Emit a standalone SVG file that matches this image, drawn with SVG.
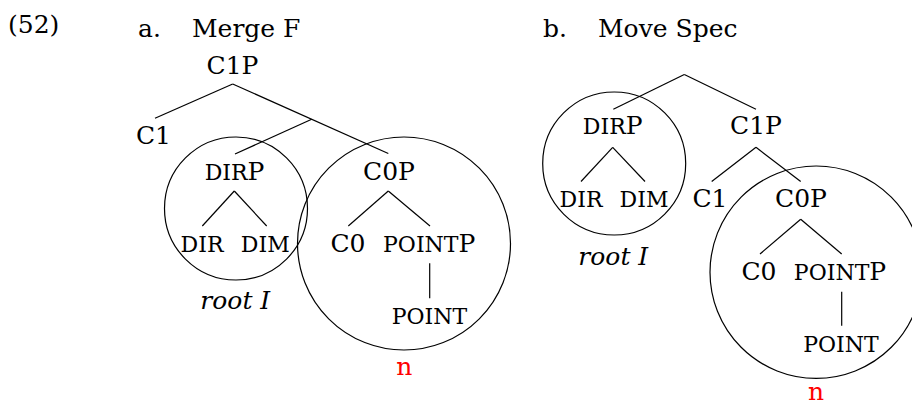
<svg xmlns="http://www.w3.org/2000/svg" width="912" height="405" viewBox="0 0 912 405">
<style>
text{font-family:"DejaVu Serif","Liberation Serif",serif;font-size:25px;fill:#000}
.m{text-anchor:middle}
.sc{font-size:22px}
.it{font-style:italic}
.red{fill:#ff0000}
line,circle{stroke:#000;stroke-width:1.2;fill:none}
</style>
<rect width="912" height="405" fill="#fff"/>
<g id="labels">
<text x="8" y="32.5">(52)</text>
<text x="138" y="36.5">a.</text>
<text x="192" y="36.5">Merge F</text>
<text x="543" y="36.5">b.</text>
<text x="598" y="36.5">Move Spec</text>
</g>
<g id="connectors">
<line x1="232.7" y1="84" x2="155" y2="118.3"/>
<line x1="232.7" y1="84" x2="388.3" y2="153.5"/>
<line x1="311.7" y1="119.2" x2="235" y2="154"/>
<line x1="234.3" y1="191" x2="202.3" y2="226"/>
<line x1="234.3" y1="191" x2="266.7" y2="226"/>
<line x1="388.3" y1="191" x2="348.3" y2="226"/>
<line x1="388.3" y1="191" x2="430" y2="226"/>
<line x1="429.7" y1="263.3" x2="429.7" y2="298.3"/>
<line x1="684.3" y1="74.5" x2="613.3" y2="109.3"/>
<line x1="684.3" y1="74.5" x2="756" y2="109.3"/>
<line x1="612.7" y1="147.3" x2="581" y2="181.5"/>
<line x1="612.7" y1="147.3" x2="645" y2="181.5"/>
<line x1="756" y1="147.3" x2="711.7" y2="181.5"/>
<line x1="756" y1="147.3" x2="800.7" y2="181.5"/>
<line x1="800.7" y1="219.3" x2="760" y2="254"/>
<line x1="800.7" y1="219.3" x2="841.7" y2="254"/>
<line x1="841.7" y1="291.7" x2="841.7" y2="325.7"/>
</g>
<g id="circles">
<circle cx="236" cy="208.5" r="71.5"/>
<circle cx="404" cy="243.5" r="106.5"/>
<circle cx="614.2" cy="163.5" r="71.5"/>
<circle cx="816.2" cy="272.2" r="106.2"/>
</g>
<g id="a-C1P"><text class="m" x="232.5" y="74">C1P</text></g>
<g id="a-C1"><text class="m" x="153.5" y="144">C1</text></g>
<g id="a-DIRP"><text class="m" x="234.5" y="180"><tspan class="sc">DIR</tspan>P</text></g>
<g id="a-C0P"><text class="m" x="389" y="180">C0P</text></g>
<g id="a-DIR"><text class="m sc" x="202" y="252">DIR</text></g>
<g id="a-DIM"><text class="m sc" x="265.3" y="252">DIM</text></g>
<g id="a-C0"><text class="m" x="348" y="252">C0</text></g>
<g id="a-POINTP"><text class="m" x="429.2" y="252"><tspan class="sc">POINT</tspan>P</text></g>
<g id="a-POINT"><text class="m sc" x="429.5" y="324">POINT</text></g>
<g id="a-root"><text class="m it" x="235.3" y="309">root I</text></g>
<g id="a-n"><text class="m red" x="404.3" y="375">n</text></g>
<g id="b-DIRP"><text class="m" x="612.7" y="134"><tspan class="sc">DIR</tspan>P</text></g>
<g id="b-C1P"><text class="m" x="756" y="134">C1P</text></g>
<g id="b-DIR"><text class="m sc" x="581" y="207">DIR</text></g>
<g id="b-DIM"><text class="m sc" x="644" y="207">DIM</text></g>
<g id="b-C1"><text class="m" x="710" y="207">C1</text></g>
<g id="b-C0P"><text class="m" x="801" y="207">C0P</text></g>
<g id="b-root"><text class="m it" x="613.3" y="265">root I</text></g>
<g id="b-C0"><text class="m" x="759" y="280">C0</text></g>
<g id="b-POINTP"><text class="m" x="840" y="280"><tspan class="sc">POINT</tspan>P</text></g>
<g id="b-POINT"><text class="m sc" x="841" y="351.5">POINT</text></g>
<g id="b-n"><text class="m red" x="816" y="399.5">n</text></g>
</svg>
